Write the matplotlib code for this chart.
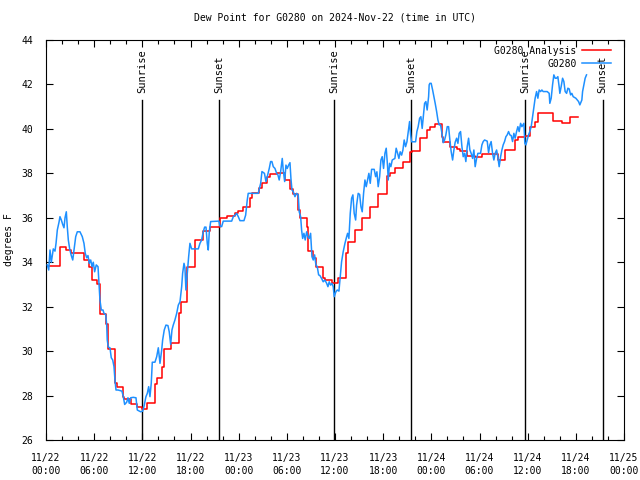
import matplotlib
matplotlib.use('Agg')
import matplotlib.pyplot as plt
import matplotlib.dates as mdates
import pandas as pd

start = pd.Timestamp('2024-11-22 00:00')
end = pd.Timestamp('2024-11-25 00:00')

# analysis, hours after start where the value changes, deg F
ana_hours = [0.0, 1.74, 2.49, 3.11, 4.73, 5.35, 5.73, 6.35, 6.72, 7.47, 7.72, 8.59,
             8.84, 9.59, 9.71, 10.59, 11.33, 11.96, 12.58, 13.57, 13.82, 14.45, 14.69,
             15.57, 16.56, 16.81, 17.56, 18.56, 19.55, 20.42, 21.67, 22.54, 23.54, 23.91,
             24.53, 25.40, 25.65, 26.53, 26.90, 27.52, 27.90, 28.77, 29.76, 30.39, 30.76,
             31.38, 31.63, 32.50, 32.63, 33.25, 33.62, 34.50, 34.74, 35.62, 36.36, 37.36,
             37.61, 38.48, 39.35, 40.35, 41.34, 42.47, 42.84, 43.46, 44.46, 45.33, 45.58,
             46.58, 47.45, 47.82, 48.44, 49.32, 49.44, 50.31, 51.18, 51.56, 52.43, 53.42,
             54.30, 56.29, 57.16, 58.41, 58.78, 59.65, 60.27, 60.90, 61.27, 63.14, 64.26,
             65.25, 66.25]
ana_dewp = [33.85, 34.70, 34.55, 34.43, 34.1, 33.8, 33.2, 33.0, 31.67, 31.2, 30.1, 28.55,
            28.4, 27.95, 27.85, 27.6, 27.5, 27.4, 27.65, 28.5, 28.8, 29.3, 30.1,
            30.35, 31.7, 32.2, 33.8, 35.0, 35.4, 35.6, 36.0, 36.1, 36.2, 36.3,
            36.5, 36.9, 37.1, 37.35, 37.55, 37.85, 37.95, 38.0, 37.7, 37.3, 37.05,
            36.35, 36.0, 35.6, 34.5, 34.2, 33.8, 33.3, 33.2, 33.05, 33.3, 34.4,
            34.9, 35.45, 36.0, 36.5, 37.05, 37.9, 38.0, 38.25, 38.5, 38.95, 39.0,
            39.6, 39.95, 40.1, 40.2, 39.65, 39.4, 39.2, 39.1, 39.0, 38.8, 38.75,
            38.85, 38.6, 39.05, 39.5, 39.65, 39.7, 40.1, 40.3, 40.7, 40.35, 40.25,
            40.55, 40.55]

# station observations
obs_hours = [0.16, 0.34, 0.50, 0.66, 0.91, 1.12, 1.25, 1.41, 1.62, 1.74, 1.91, 2.08, 2.24,
             2.37, 2.53, 2.65, 2.78, 2.95, 3.15, 3.33, 3.49, 3.70, 3.90, 4.23, 4.52, 4.73,
             4.89, 5.07, 5.23, 5.39, 5.57, 5.73, 5.89, 6.06, 6.26, 6.48, 6.60, 6.72, 6.89,
             7.10, 7.22, 7.43, 7.56, 7.63, 7.76, 7.97, 8.13, 8.31, 8.47, 8.59, 8.72, 8.97,
             9.46, 9.63, 9.80, 10.05, 10.21, 10.37, 10.55, 10.87, 11.21, 11.37, 11.79, 12.04,
             12.20, 12.45, 12.62, 12.79, 12.95, 13.11, 13.24, 13.57, 13.79, 13.99, 14.20,
             14.41, 14.53, 14.73, 14.94, 15.19, 15.35, 15.53, 15.69, 15.85, 16.06, 16.28,
             16.48, 16.69, 16.90, 17.02, 17.19, 17.31, 17.43, 17.60, 17.77, 17.93, 18.14,
             18.97, 19.18, 19.39, 19.59, 19.76, 19.93, 20.09, 20.21, 20.34, 20.51, 21.54,
             21.67, 21.88, 22.08, 23.13, 23.33, 23.57, 23.75, 23.95, 24.16, 24.66, 24.87,
             25.07, 25.19, 26.44, 26.56, 26.74, 26.90, 27.21, 27.40, 27.56, 27.81, 27.98,
             28.14, 28.31, 28.52, 28.73, 28.89, 29.05, 29.23, 29.35, 29.43, 29.55, 29.73,
             29.89, 30.05, 30.22, 30.39, 30.51, 30.64, 30.80, 31.01, 31.22, 31.42, 31.54,
             31.72, 31.84, 31.97, 32.13, 32.29, 32.47, 32.63, 32.79, 32.96, 33.13, 33.29,
             33.46, 33.62, 33.79, 33.96, 34.12, 34.33, 34.53, 34.74, 34.96, 35.12, 35.28,
             35.45, 35.62, 35.78, 35.90, 36.11, 36.28, 36.49, 36.65, 36.82, 37.02, 37.24,
             37.45, 37.57, 37.73, 37.90, 38.07, 38.23, 38.39, 38.57, 38.69, 38.89, 39.07,
             39.23, 39.39, 39.56, 39.73, 39.89, 40.06, 40.22, 40.39, 40.56, 40.88, 41.06,
             41.22, 41.38, 41.56, 41.72, 41.88, 42.05, 42.22, 42.38, 42.55, 42.63, 42.80,
             42.96, 43.13, 43.46, 43.62, 43.80, 43.96, 44.12, 44.30, 44.46, 44.62, 44.79,
             44.96, 45.12, 45.29, 45.42, 45.54, 46.04, 46.20, 46.36, 46.54, 46.70, 46.86,
             47.04, 47.16, 47.32, 47.48, 47.66, 47.73, 47.82, 47.98, 48.16, 48.32, 48.48,
             48.66, 48.82, 48.98, 49.15, 49.32, 49.48, 49.65, 49.81, 49.98, 50.15, 50.31,
             50.47, 50.65, 50.81, 50.97, 51.15, 51.31, 51.47, 51.64, 51.81, 51.97, 52.14,
             52.30, 52.47, 52.64, 52.80, 52.96, 53.14, 53.30, 53.46, 53.64, 53.80, 54.13,
             54.30, 54.46, 54.63, 54.96, 55.13, 55.29, 55.45, 55.63, 55.79, 55.95, 56.13,
             56.29, 56.45, 56.63, 56.79, 56.95, 57.12, 57.29, 57.45, 57.62, 57.78, 57.95,
             58.12, 58.28, 58.44, 58.62, 58.78, 58.94, 59.12, 59.28, 59.53, 59.65, 59.78,
             59.94, 60.11, 60.27, 60.44, 60.61, 60.77, 60.93, 61.11, 61.27, 61.43, 61.61,
             61.77, 61.93, 62.43, 62.68, 62.76, 62.93, 63.10, 63.26, 63.43, 63.60, 63.76,
             63.92, 64.01, 64.17, 64.35, 64.51, 64.67, 64.85, 65.01, 65.17, 65.35, 65.50,
             65.67, 66.00, 66.34, 66.50, 66.75, 66.84, 67.00, 67.16, 67.33]
obs_dewp = [33.88, 33.65, 34.55, 34.0, 34.6, 34.5, 34.85, 35.45, 35.8, 36.05, 35.9, 35.7, 35.55,
            36.0, 36.27, 35.6, 35.0, 34.6, 34.3, 34.1, 34.55, 35.15, 35.37, 35.37, 35.15, 34.85,
            34.4, 34.2, 34.3, 33.95, 34.1, 33.8, 34.0, 33.57, 33.88, 33.8, 33.05, 32.3, 31.85,
            31.85, 31.7, 31.65, 31.2, 30.5, 30.18, 30.15, 29.7, 29.6, 29.3, 28.7, 28.25, 28.25,
            28.2, 27.95, 27.6, 27.7, 27.9, 27.65, 27.9, 27.92, 27.9, 27.35, 27.27, 27.3,
            27.5, 27.95, 28.1, 28.4, 27.95, 28.55, 29.5, 29.5, 29.75, 30.15, 29.45,
            30.05, 30.5, 30.95, 31.17, 31.15, 30.87, 30.3, 30.95, 31.17, 31.4, 31.7,
            32.07, 32.22, 32.9, 33.5, 33.95, 33.74, 32.75, 33.5, 34.25, 34.85, 34.6,
            34.6, 34.85, 35.0, 35.37, 35.58, 35.58, 34.85, 34.55, 35.37, 35.83, 35.85,
            35.63, 35.6, 35.85, 35.85, 36.05, 36.12, 36.2, 36.05, 35.87, 35.87, 36.12,
            36.8, 37.1, 37.1, 37.28, 37.55, 38.08, 38.0, 37.63, 37.85, 38.22, 38.53,
            38.53, 38.3, 38.22, 38.0, 37.93, 37.7, 38.08, 38.42, 38.67, 38.15, 37.63,
            38.37, 38.22, 38.37, 38.48, 37.77, 37.25, 37.18, 36.95, 37.1, 37.03, 36.27,
            36.05, 35.45, 35.07, 35.3, 35.0, 35.37, 35.15, 35.07, 35.3, 34.25, 34.1,
            34.33, 33.88, 33.8, 33.43, 33.4, 33.27, 33.12, 33.2, 33.05, 32.9, 33.12,
            32.97, 33.05, 32.9, 32.45, 32.67, 32.75, 32.7, 33.35, 34.02, 34.47, 34.85,
            35.15, 35.3, 35.07, 36.2, 36.88, 37.03, 36.2, 35.9, 36.57, 37.1, 37.05,
            36.5, 36.27, 37.1, 37.7, 37.4, 37.7, 38.0, 37.55, 38.18, 38.18, 37.85,
            38.07, 37.4, 37.85, 38.6, 38.75, 38.22, 38.9, 39.13, 38.3, 37.7, 38.45,
            38.3, 38.6, 38.67, 39.13, 38.9, 38.67, 38.97, 38.82, 39.05, 39.5, 39.2,
            39.42, 39.88, 40.33, 39.73, 39.42, 39.42, 39.88, 40.1, 40.48, 40.55, 40.02,
            40.7, 41.15, 41.23, 40.85, 41.45, 41.98, 42.05, 42.05, 41.75, 41.45, 41.15,
            40.78, 40.4, 40.18, 40.18, 39.8, 39.38, 39.5, 39.73, 40.1, 40.1, 39.5,
            38.98, 38.6, 39.05, 39.4, 39.58, 39.35, 39.8, 39.88, 39.2, 38.75, 38.9,
            38.53, 39.2, 39.58, 39.05, 38.9, 38.67, 39.05, 38.3, 38.67, 38.9, 38.9,
            39.28, 39.43, 39.5, 39.45, 38.93, 39.28, 39.43, 38.9, 38.6, 38.9, 39.05,
            38.72, 38.3, 38.75, 39.05, 39.28, 39.43, 39.65, 39.73, 39.88, 39.73, 39.7,
            39.43, 39.8, 39.58, 39.88, 40.1, 39.88, 40.25, 40.1, 40.25, 39.35, 39.28,
            39.5, 39.73, 39.88, 40.1, 40.55, 41.0, 41.38, 41.68, 41.38, 41.75, 41.68,
            41.75, 41.68, 41.68, 41.6, 41.15, 41.38, 41.98, 42.43, 42.28, 42.28, 42.35,
            41.9, 41.6, 41.9, 42.28, 42.13, 41.68, 41.6, 41.83, 41.8, 41.53, 41.6,
            41.45, 41.38, 41.23, 41.08, 41.3, 41.68, 41.98, 42.28, 42.43]

sunrise = ['2024-11-22 12:00', '2024-11-23 11:54', '2024-11-24 11:42']
sunset = ['2024-11-22 21:35', '2024-11-23 21:29', '2024-11-24 21:20']

plt.rcParams['font.family'] = 'DejaVu Sans Mono'
plt.rcParams['font.size'] = 7

fig = plt.figure(figsize=(6.4, 4.8), dpi=100)
ax = fig.add_axes([46/640, 40/480, 578/640, 400/480])

t_ana = start + pd.to_timedelta(ana_hours, unit='h')
t_obs = start + pd.to_timedelta(obs_hours, unit='h')

xt = ax.get_xaxis_transform()
for s in sunrise:
    ax.axvline(pd.Timestamp(s), ymax=0.85, color='black', lw=1, zorder=1)
    ax.text(pd.Timestamp(s), 0.868, 'Sunrise', transform=xt, rotation=90,
            ha='center', va='bottom', fontsize=7.5)
for s in sunset:
    ax.axvline(pd.Timestamp(s), ymax=0.85, color='black', lw=1, zorder=1)
    ax.text(pd.Timestamp(s), 0.868, 'Sunset', transform=xt, rotation=90,
            ha='center', va='bottom', fontsize=7.5)

ax.step(t_ana, ana_dewp, where='post', color='red', lw=1.1, label='G0280 Analysis', zorder=2)
ax.plot(t_obs, obs_dewp, color='#1e90ff', lw=1.1, label='G0280', zorder=3)

ax.set_xlim(start, end)
ax.set_ylim(26, 44)
ax.set_yticks(range(26, 45, 2))
ax.xaxis.set_major_locator(mdates.HourLocator(byhour=[0, 6, 12, 18]))
ax.xaxis.set_minor_locator(mdates.HourLocator(interval=2))
ax.xaxis.set_major_formatter(mdates.DateFormatter('%m/%d\n%H:%M'))
ax.tick_params(which='both', direction='in', top=True, right=True, width=0.8)
ax.tick_params(which='major', length=5, pad=9)
ax.tick_params(which='minor', length=3)
plt.setp(ax.get_xticklabels(), linespacing=1.5)
for sp in ax.spines.values():
    sp.set_linewidth(0.8)

ax.set_title('Dew Point for G0280 on 2024-Nov-22 (time in UTC)', fontsize=7, pad=14)
ax.set_ylabel('degrees F')
ax.yaxis.set_label_coords(-0.055, 0.5)

ax.legend(loc='upper right', bbox_to_anchor=(0.985, 0.995), frameon=False,
          markerfirst=False, handlelength=3, labelspacing=0.3, borderaxespad=0,
          handletextpad=0.6)

fig.savefig('out.png', dpi=100)
